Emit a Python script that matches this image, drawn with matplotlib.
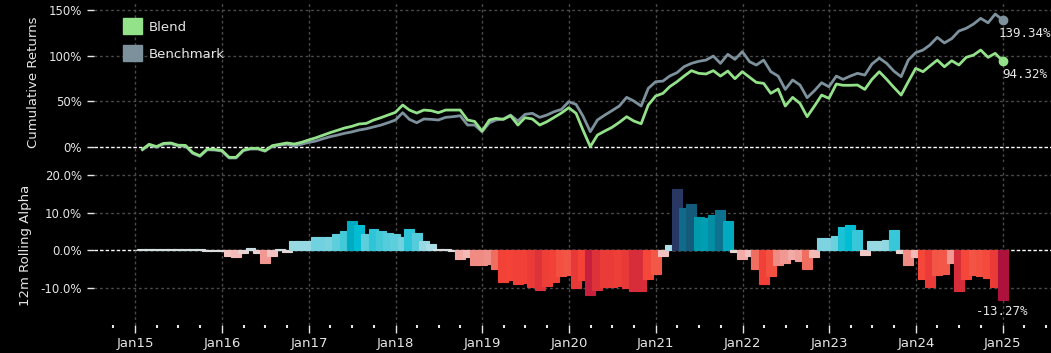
import numpy as np
import pandas as pd
import matplotlib
matplotlib.use("Agg")
import matplotlib.pyplot as plt
import matplotlib.dates as mdates
from matplotlib.colors import LinearSegmentedColormap, Normalize
from matplotlib.patches import Patch
from matplotlib.ticker import FuncFormatter

# ---------------- data ----------------
dates = pd.date_range("2015-01-31", periods=120, freq="ME")

blend = [
    -2.5, 3.0, 0.5, 4.0, 4.4, 2.0, 1.8, -6.2, -9.5, -2.2, -2.6, -3.6,
    -11.3, -11.3, -3.3, -1.5, -1.5, -4.0, 1.5, 3.0, 4.4, 3.3, 5.1, 7.7,
    10.2, 12.8, 15.7, 18.2, 20.8, 22.6, 25.2, 25.9, 29.5, 32.1, 35.0, 37.9,
    46.0, 40.5, 37.2, 40.5, 39.8, 37.6, 40.5, 40.5, 40.5, 29.6, 28.0, 17.5,
    29.6, 31.4, 30.3, 34.3, 24.1, 32.1, 30.7, 24.1, 27.7, 32.5, 37.2, 43.0,
    36.9, 18.6, 0.4, 13.1, 17.5, 21.5, 27.0, 33.2, 28.5, 25.5, 46.0, 55.8,
    58.8, 66.0, 71.5, 77.7, 83.6, 80.7, 80.0, 83.6, 77.7, 83.2, 74.8, 82.5,
    76.3, 70.8, 69.7, 58.8, 63.5, 44.9, 54.4, 47.8, 33.2, 44.9, 56.9, 53.3,
    69.0, 67.6, 67.6, 67.9, 63.1, 74.1, 82.5, 74.1, 65.4, 56.9, 71.5, 86.1,
    82.5, 88.7, 95.2, 87.9, 94.5, 89.8, 98.2, 100.7, 106.2, 98.2, 102.6, 94.32,
]

benchmark = [
    -3.0, 2.2, -0.3, 3.2, 3.6, 1.2, 1.0, -7.0, -10.2, -3.0, -3.3, -4.4,
    -12.0, -12.0, -4.0, -2.2, -2.2, -4.6, 0.6, 2.0, 3.0, 1.1, 3.0, 5.0,
    6.6, 9.0, 11.3, 13.0, 15.0, 16.5, 18.6, 20.0, 22.0, 24.0, 26.6, 29.5,
    37.6, 30.3, 26.6, 30.7, 30.3, 29.6, 32.5, 33.2, 34.3, 24.1, 24.1, 16.8,
    26.6, 29.6, 30.7, 35.0, 28.5, 35.8, 36.9, 32.5, 35.0, 38.7, 41.2, 49.6,
    46.7, 33.9, 16.8, 29.6, 35.0, 39.8, 44.9, 54.4, 50.4, 44.9, 64.2, 71.5,
    72.2, 77.7, 81.4, 88.0, 91.6, 93.8, 95.2, 99.6, 91.6, 101.5, 96.0, 104.4,
    93.4, 89.8, 95.2, 82.5, 77.7, 63.1, 73.4, 67.9, 54.0, 61.7, 70.4, 66.0,
    77.7, 74.1, 77.7, 80.7, 78.8, 90.9, 97.4, 91.6, 83.2, 77.0, 95.2, 103.3,
    106.2, 111.7, 120.1, 114.0, 118.7, 127.0, 130.0, 134.7, 140.9, 136.0, 145.6, 139.34,
]

alpha = [
    0.2, 0.2, 0.2, 0.2, 0.2, 0.2, 0.2, 0.2, 0.2, -0.15, -0.15, -0.15,
    -1.6, -1.9, -0.8, 0.5, -0.8, -3.4, -1.7, 0.3, -0.4, 2.4, 2.4, 2.4,
    3.6, 3.6, 3.4, 4.2, 5.0, 7.7, 6.6, 4.2, 5.5, 5.0, 4.5, 4.2,
    3.6, 5.5, 4.5, 2.4, 1.6, 0.15, 0.15, -0.15, -2.4, -1.9, -4.0, -4.0,
    -3.8, -5.0, -8.5, -8.0, -9.0, -8.7, -9.8, -10.6, -9.5, -8.5, -6.9, -6.6,
    -10.0, -8.0, -11.9, -10.6, -9.8, -9.8, -9.5, -10.0, -10.9, -10.9, -7.7, -6.4,
    -1.7, 1.3, 16.4, 11.1, 12.4, 8.7, 8.5, 9.3, 10.6, 7.7, -0.5, -2.4,
    -1.7, -5.0, -9.0, -6.9, -4.0, -3.4, -2.4, -2.9, -5.0, -1.9, 3.2, 3.2,
    3.7, 6.1, 6.6, 5.3, -1.3, 2.4, 2.4, 2.7, 5.3, -0.8, -4.0, -1.9,
    -7.7, -9.8, -6.6, -6.4, -3.4, -10.9, -7.7, -6.6, -6.9, -7.4, -9.8, -13.27,
]

series_names = ["Blend", "Benchmark"]
top_yticks = [0, 50, 100, 150]
bottom_yticks = [-10, 0, 10, 20]

# ---------------- styling ----------------
BG = "black"
TXT = "#e6e6e6"
GREEN = "#93e28a"
GREY = "#7d919c"
GRID = "#4a4a4a"

plt.rcParams["font.family"] = ["DejaVu Sans"]

fig = plt.figure(figsize=(10.51, 3.53), dpi=100, facecolor=BG)
W, H = 1051, 353
left = 94 / W
ax1 = fig.add_axes([left, 1 - 162 / H, 1 - left, 160 / H], facecolor=BG)
ax2 = fig.add_axes([left, 1 - 325 / H, 1 - left, 160 / H], facecolor=BG, sharex=ax1)

x0 = mdates.date2num(pd.Timestamp("2014-07-11"))
x1 = mdates.date2num(pd.Timestamp("2025-07-23"))

# colormap for alpha bars
nodes = [
    (-14.0, "#9e0b3a"), (-12.0, "#c61f3f"), (-10.8, "#da2f3a"), (-9.6, "#ee3e38"),
    (-8.0, "#f44336"), (-6.5, "#f25646"), (-5.0, "#f06e60"), (-4.0, "#ef8c84"),
    (-2.5, "#f2aaa5"), (-1.5, "#f3c8c6"), (0.0, "#dcdede"), (1.2, "#b0e0e8"),
    (2.5, "#95d8e3"), (4.0, "#65cfdc"), (5.5, "#32c6d8"), (6.7, "#00bdd4"),
    (7.8, "#00a9bf"), (9.0, "#0096a8"), (10.5, "#0c7492"), (12.5, "#135a7b"),
    (17.0, "#2c3360"),
]
vmin, vmax = nodes[0][0], nodes[-1][0]
cmap = LinearSegmentedColormap.from_list(
    "alpha", [((v - vmin) / (vmax - vmin), c) for v, c in nodes])
norm = Normalize(vmin, vmax)

for ax in (ax1, ax2):
    for s in ax.spines.values():
        s.set_visible(False)
    ax.tick_params(colors=TXT, labelcolor=TXT, labelsize=8.5, length=5, width=1)
    ax.set_xlim(x0, x1)

# ---- top: cumulative returns ----
ax1.axhline(0, color="white", lw=1, ls=(0, (2.5, 1.5)), zorder=1)
for yv in top_yticks[1:]:
    ax1.axhline(yv, color=GRID, lw=1, ls=(0, (2, 2)), zorder=0)
ax1.plot(dates, benchmark, color=GREY, lw=2, zorder=3)
ax1.plot(dates, blend, color=GREEN, lw=2, zorder=4)
ax1.plot(dates[-1], benchmark[-1], "o", color=GREY, ms=6, zorder=5)
ax1.plot(dates[-1], blend[-1], "o", color=GREEN, ms=6, zorder=5)
ax1.annotate(f"{benchmark[-1]:.2f}%", (dates[-1], benchmark[-1]), xytext=(-3, -5),
             textcoords="offset points", ha="left", va="top", color=TXT,
             fontsize=9, family="DejaVu Sans Mono")
ax1.annotate(f"{blend[-1]:.2f}%", (dates[-1], blend[-1]), xytext=(0, -5),
             textcoords="offset points", ha="left", va="top", color=TXT,
             fontsize=9, family="DejaVu Sans Mono")
ax1.set_ylim(-16.4, 158.8)
ax1.set_yticks(top_yticks)
ax1.yaxis.set_major_formatter(FuncFormatter(lambda v, p: f"{v:.0f}%"))
ax1.set_ylabel("Cumulative Returns", color=TXT, fontsize=9.5, labelpad=6)
ax1.tick_params(axis="x", which="both", bottom=False, labelbottom=False)

leg = ax1.legend(handles=[Patch(color=GREEN, label=series_names[0]),
                          Patch(color=GREY, label=series_names[1])],
                 loc="upper left", bbox_to_anchor=(0.025, 0.93), frameon=False,
                 fontsize=9.5, handlelength=1.45, handleheight=1.45,
                 labelspacing=0.85, handletextpad=0.45, labelcolor=TXT,
                 borderaxespad=0)

# ---- bottom: rolling alpha ----
ax2.axhline(0, color="white", lw=1, ls=(0, (2.5, 1.5)), zorder=1)
for yv in [-10, 10, 20]:
    ax2.axhline(yv, color=GRID, lw=1, ls=(0, (2, 2)), zorder=0)
colors = [cmap(norm(v)) for v in alpha]
ax2.bar(dates, alpha, width=42, color=colors, edgecolor=colors, linewidth=0.8,
        align="center", zorder=2)
ax2.annotate(f"{alpha[-1]:.2f}%", (dates[-1], alpha[-1]), xytext=(0, -4),
             textcoords="offset points", ha="center", va="top", color=TXT,
             fontsize=9, family="DejaVu Sans Mono")
ax2.set_ylim(-20, 22.7)
ax2.set_yticks(bottom_yticks)
ax2.yaxis.set_major_formatter(FuncFormatter(lambda v, p: f"{v:.1f}%"))
ax2.set_ylabel("12m Rolling Alpha", color=TXT, fontsize=9.5, labelpad=6)

# x axis
for ax in (ax1, ax2):
    ax.xaxis.set_major_locator(mdates.YearLocator(1, month=1, day=1))
    ax.xaxis.set_minor_locator(mdates.MonthLocator(bymonth=[1, 4, 7, 10]))
    ax.grid(axis="x", which="major", color=GRID, lw=1, ls=(0, (2, 2)), zorder=0)
ax2.xaxis.set_major_formatter(mdates.DateFormatter("Jan%y"))
ax2.tick_params(axis="x", which="major", length=6, width=1, pad=3, labelsize=9.5)
ax2.tick_params(axis="x", which="minor", length=2, width=1.5, color=TXT)

fig.savefig("out.png", dpi=100, facecolor=BG)
